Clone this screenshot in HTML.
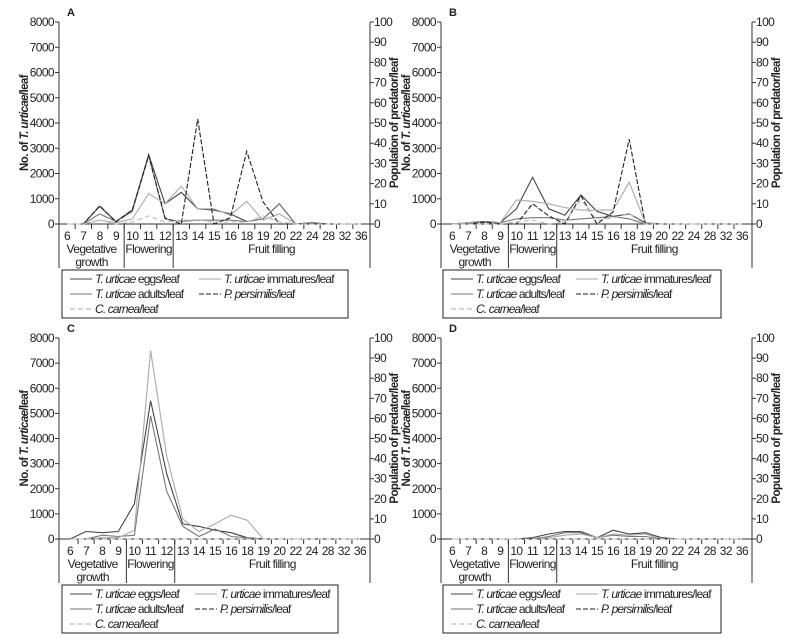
<!DOCTYPE html>
<html><head><meta charset="utf-8"><style>
html,body{margin:0;padding:0;background:#fff;}
svg{display:block;font-family:"Liberation Sans",sans-serif;}
text{fill:#222;letter-spacing:-0.6px;}
.lg text{letter-spacing:-0.85px;}
</style></head><body>
<svg id="chart" width="800" height="642" viewBox="0 0 800 642"></svg>
<script>
const categories=["6","7","8","9","10","11","12","13","14","15","16","18","19","20","22","24","28","32","36"];
const leftTicks=[0,1000,2000,3000,4000,5000,6000,7000,8000];
const rightTicks=[0,10,20,30,40,50,60,70,80,90,100];
const seriesNames=["eggs","adults","immatures","persimilis","carnea"];
const aEggs=[0,0,700,100,550,2750,800,1250,600,550,400,100,200,800,0,50,0,0,0];
const aAdults=[0,0,400,100,500,2700,200,100,150,150,150,100,200,800,0,50,0,0,0];
const aImm=[0,0,150,50,200,1200,800,1500,600,600,350,900,150,400,0,0,0,0,0];
const aPers=[0,0,9,1,7,34,3,0,52,0,3,36,11,0,0,0,0,0,0];
const aCarn=[0,0,2,0,1,4,1,2,2,1,1,1,4,1,0,0,0,0,0];
const bEggs=[0,50,100,50,600,1850,600,350,1150,500,300,400,50,0,0,0,0,0,0];
const bAdults=[0,0,100,50,200,250,250,150,200,250,300,200,0,0,0,0,0,0,0];
const bImm=[0,50,50,50,950,900,800,650,550,550,550,1650,50,0,0,0,0,0,0];
const bPers=[0,0,1,0,0,10,4,0,14,0,6,42,0,0,0,0,0,0,0];
const bCarn=[0,0,0,0,1,2,0,1,12,2,3,5,0,0,0,0,0,0,0];
const cEggs=[0,300,250,300,1400,5500,2600,600,500,350,250,50,0,0,0,0,0,0,0];
const cAdults=[0,0,150,100,150,4900,1900,500,100,400,100,50,0,0,0,0,0,0,0];
const cImm=[0,0,50,50,350,7500,3300,800,300,600,950,750,0,0,0,0,0,0,0];
const cPers=[0,0,0,0,0,0,0,0,0,0,0,0,0,0,0,0,0,0,0];
const cCarn=[0,0,0,0,0,0,0,0,0,0,0,0,0,0,0,0,0,0,0];
const dEggs=[0,0,0,0,0,50,200,300,300,50,350,200,250,50,0,0,0,0,0];
const dAdults=[0,0,0,0,0,0,100,250,250,50,150,100,100,0,0,0,0,0,0];
const dImm=[0,0,0,0,0,0,50,150,200,50,200,150,200,0,0,0,0,0,0];
const dPers=[0,0,0,0,0,0,0,0,0,0,0,0,0,0,0,0,0,0,0];
const dCarn=[0,0,0,0,0,0,0,0,0,0,0,0,0,0,0,0,0,0,0];

const NS="http://www.w3.org/2000/svg";
const svg=document.getElementById('chart');
function mk(tag,attrs,parent,txt){const e=document.createElementNS(NS,tag);for(const k in attrs)e.setAttribute(k,attrs[k]);if(txt!==undefined)e.textContent=txt;(parent||svg).appendChild(e);return e;}

function panel(P){
  const g=mk('g',{});
  
  
  const L=P.L,R=P.R,T=P.T,B=P.B;
  const x0=P.x0,x1=P.x1;
  const xs=i=>x0+i*(x1-x0)/(categories.length-1);
  const yl=v=>B-v/8000*(B-T);
  const yr=v=>B-v/100*(B-T);
  const t=mk('text',{x:L+8,y:T-6,'font-size':11,'font-weight':'bold'},g,P.label);
  
  
  const ax=mk('line',{x1:L,y1:T,x2:L,y2:B,stroke:'#333'},g);
  
  
  const ax2=mk('line',{x1:R,y1:T,x2:R,y2:B,stroke:'#333'},g);
  
  
  const ax3=mk('line',{x1:L,y1:B,x2:R,y2:B,stroke:'#333'},g);
  
  
  leftTicks.forEach(v=>{
    mk('line',{x1:L-4,y1:yl(v),x2:L,y2:yl(v),stroke:'#333'},g);
    const tt=mk('text',{x:L-5,y:yl(v)+4,'font-size':12,'text-anchor':'end'},g,v);
    
    
  });
  rightTicks.forEach(v=>{
    mk('line',{x1:R,y1:yr(v),x2:R+4,y2:yr(v),stroke:'#333'},g);
    const tt=mk('text',{x:R+4,y:yr(v)+4,'font-size':12},g,v);
    
    
  });
  categories.forEach((c,i)=>{
    const bx=x0+(i+0.5)*(x1-x0)/(categories.length-1);
    if(i<categories.length-1) mk('line',{x1:bx,y1:B,x2:bx,y2:B+5,stroke:'#333'},g);
    const tt=mk('text',{x:xs(i),y:B+16,'font-size':12,'text-anchor':'middle'},g,c);
    
    
  });
  const sep1=(xs(3)+xs(4))/2, sep2=(xs(6)+xs(7))/2;
  [L,sep1,sep2,R].forEach(x=>mk('line',{x1:x,y1:B,x2:x,y2:B+44,stroke:'#333'},g));
  const ph=[['Vegetative',(L+sep1)/2,B+29],['growth',(L+sep1)/2,B+42],['Flowering',(sep1+sep2)/2,B+29],['Fruit filling',(sep2+R)/2,B+29]];
  ph.forEach(p=>{const tt=mk('text',{x:p[1],y:p[2],'font-size':12,'text-anchor':'middle'},g,p[0]);
    
    });
  const yl1=mk('text',{transform:`translate(${L-31},${(T+B)/2}) rotate(-90)`,'font-size':11.5,'font-weight':'bold','text-anchor':'middle'},g);
  yl1.innerHTML='No. of <tspan font-style="italic">T. urticae</tspan>/leaf';
  
  
  const yl2=mk('text',{transform:`translate(${R+28},${(T+B)/2}) rotate(-90)`,'font-size':11.5,'font-weight':'bold','text-anchor':'middle'},g,'Population of predator/leaf');
  
  
  const styles=[
    {d:P.eggs,s:yl,c:'#444',da:''},
    {d:P.adults,s:yl,c:'#777',da:''},
    {d:P.imm,s:yl,c:'#aaa',da:''},
    {d:P.pers,s:yr,c:'#222',da:'5,2'},
    {d:P.carn,s:yr,c:'#bbb',da:'5,3'}];
  styles.forEach((st,k)=>{
    const pts=st.d.map((v,i)=>xs(i).toFixed(1)+','+st.s(v).toFixed(1)).join(' ');
    const pl=mk('polyline',{points:pts,fill:'none',stroke:st.c,'stroke-width':1.1,'stroke-dasharray':st.da},g);
    
    
  });
  const lx=P.lx,ly=B+46,lw=P.lw,lh=48;
  const lg=mk('g',{class:'lg'},g);
  
  
  mk('rect',{x:lx,y:ly,width:lw,height:lh,fill:'#fff',stroke:'#222'},lg);
  const c2=P.c2;
  const ent=[
    [lx+8,ly+13,'#444','','T. urticae',' eggs/leaf'],
    [lx+c2,ly+13,'#aaa','','T. urticae',' immatures/leaf'],
    [lx+8,ly+28,'#777','','T. urticae',' adults/leaf'],
    [lx+c2,ly+28,'#222','5,2','P. persimilis','/leaf'],
    [lx+8,ly+43,'#aaa','5,3','C. carnea','/leaf']];
  ent.forEach(e=>{
    const eg=mk('g',{},lg);
    
    
    mk('line',{x1:e[0],y1:e[1]-4,x2:e[0]+22,y2:e[1]-4,stroke:e[2],'stroke-dasharray':e[3]},eg);
    const tt=mk('text',{x:e[0]+25,y:e[1],'font-size':12},eg);
    tt.innerHTML='<tspan font-style="italic">'+e[4]+'</tspan>'+e[5];
  });
}
panel({label:'A',L:59,R:370,T:22,B:224,x0:67,x1:361,lx:62,lw:286,c2:137,eggs:aEggs,adults:aAdults,imm:aImm,pers:aPers,carn:aCarn});
panel({label:'B',L:441,R:752,T:22,B:224,x0:452,x1:742,lx:443,lw:278,c2:133,eggs:bEggs,adults:bAdults,imm:bImm,pers:bPers,carn:bCarn});
panel({label:'C',L:59,R:370,T:338,B:539,x0:70,x1:360,lx:62,lw:276,c2:133,eggs:cEggs,adults:cAdults,imm:cImm,pers:cPers,carn:cCarn});
panel({label:'D',L:441,R:752,T:338,B:539,x0:452,x1:742,lx:443,lw:278,c2:133,eggs:dEggs,adults:dAdults,imm:dImm,pers:dPers,carn:dCarn});
</script>
</body></html>
